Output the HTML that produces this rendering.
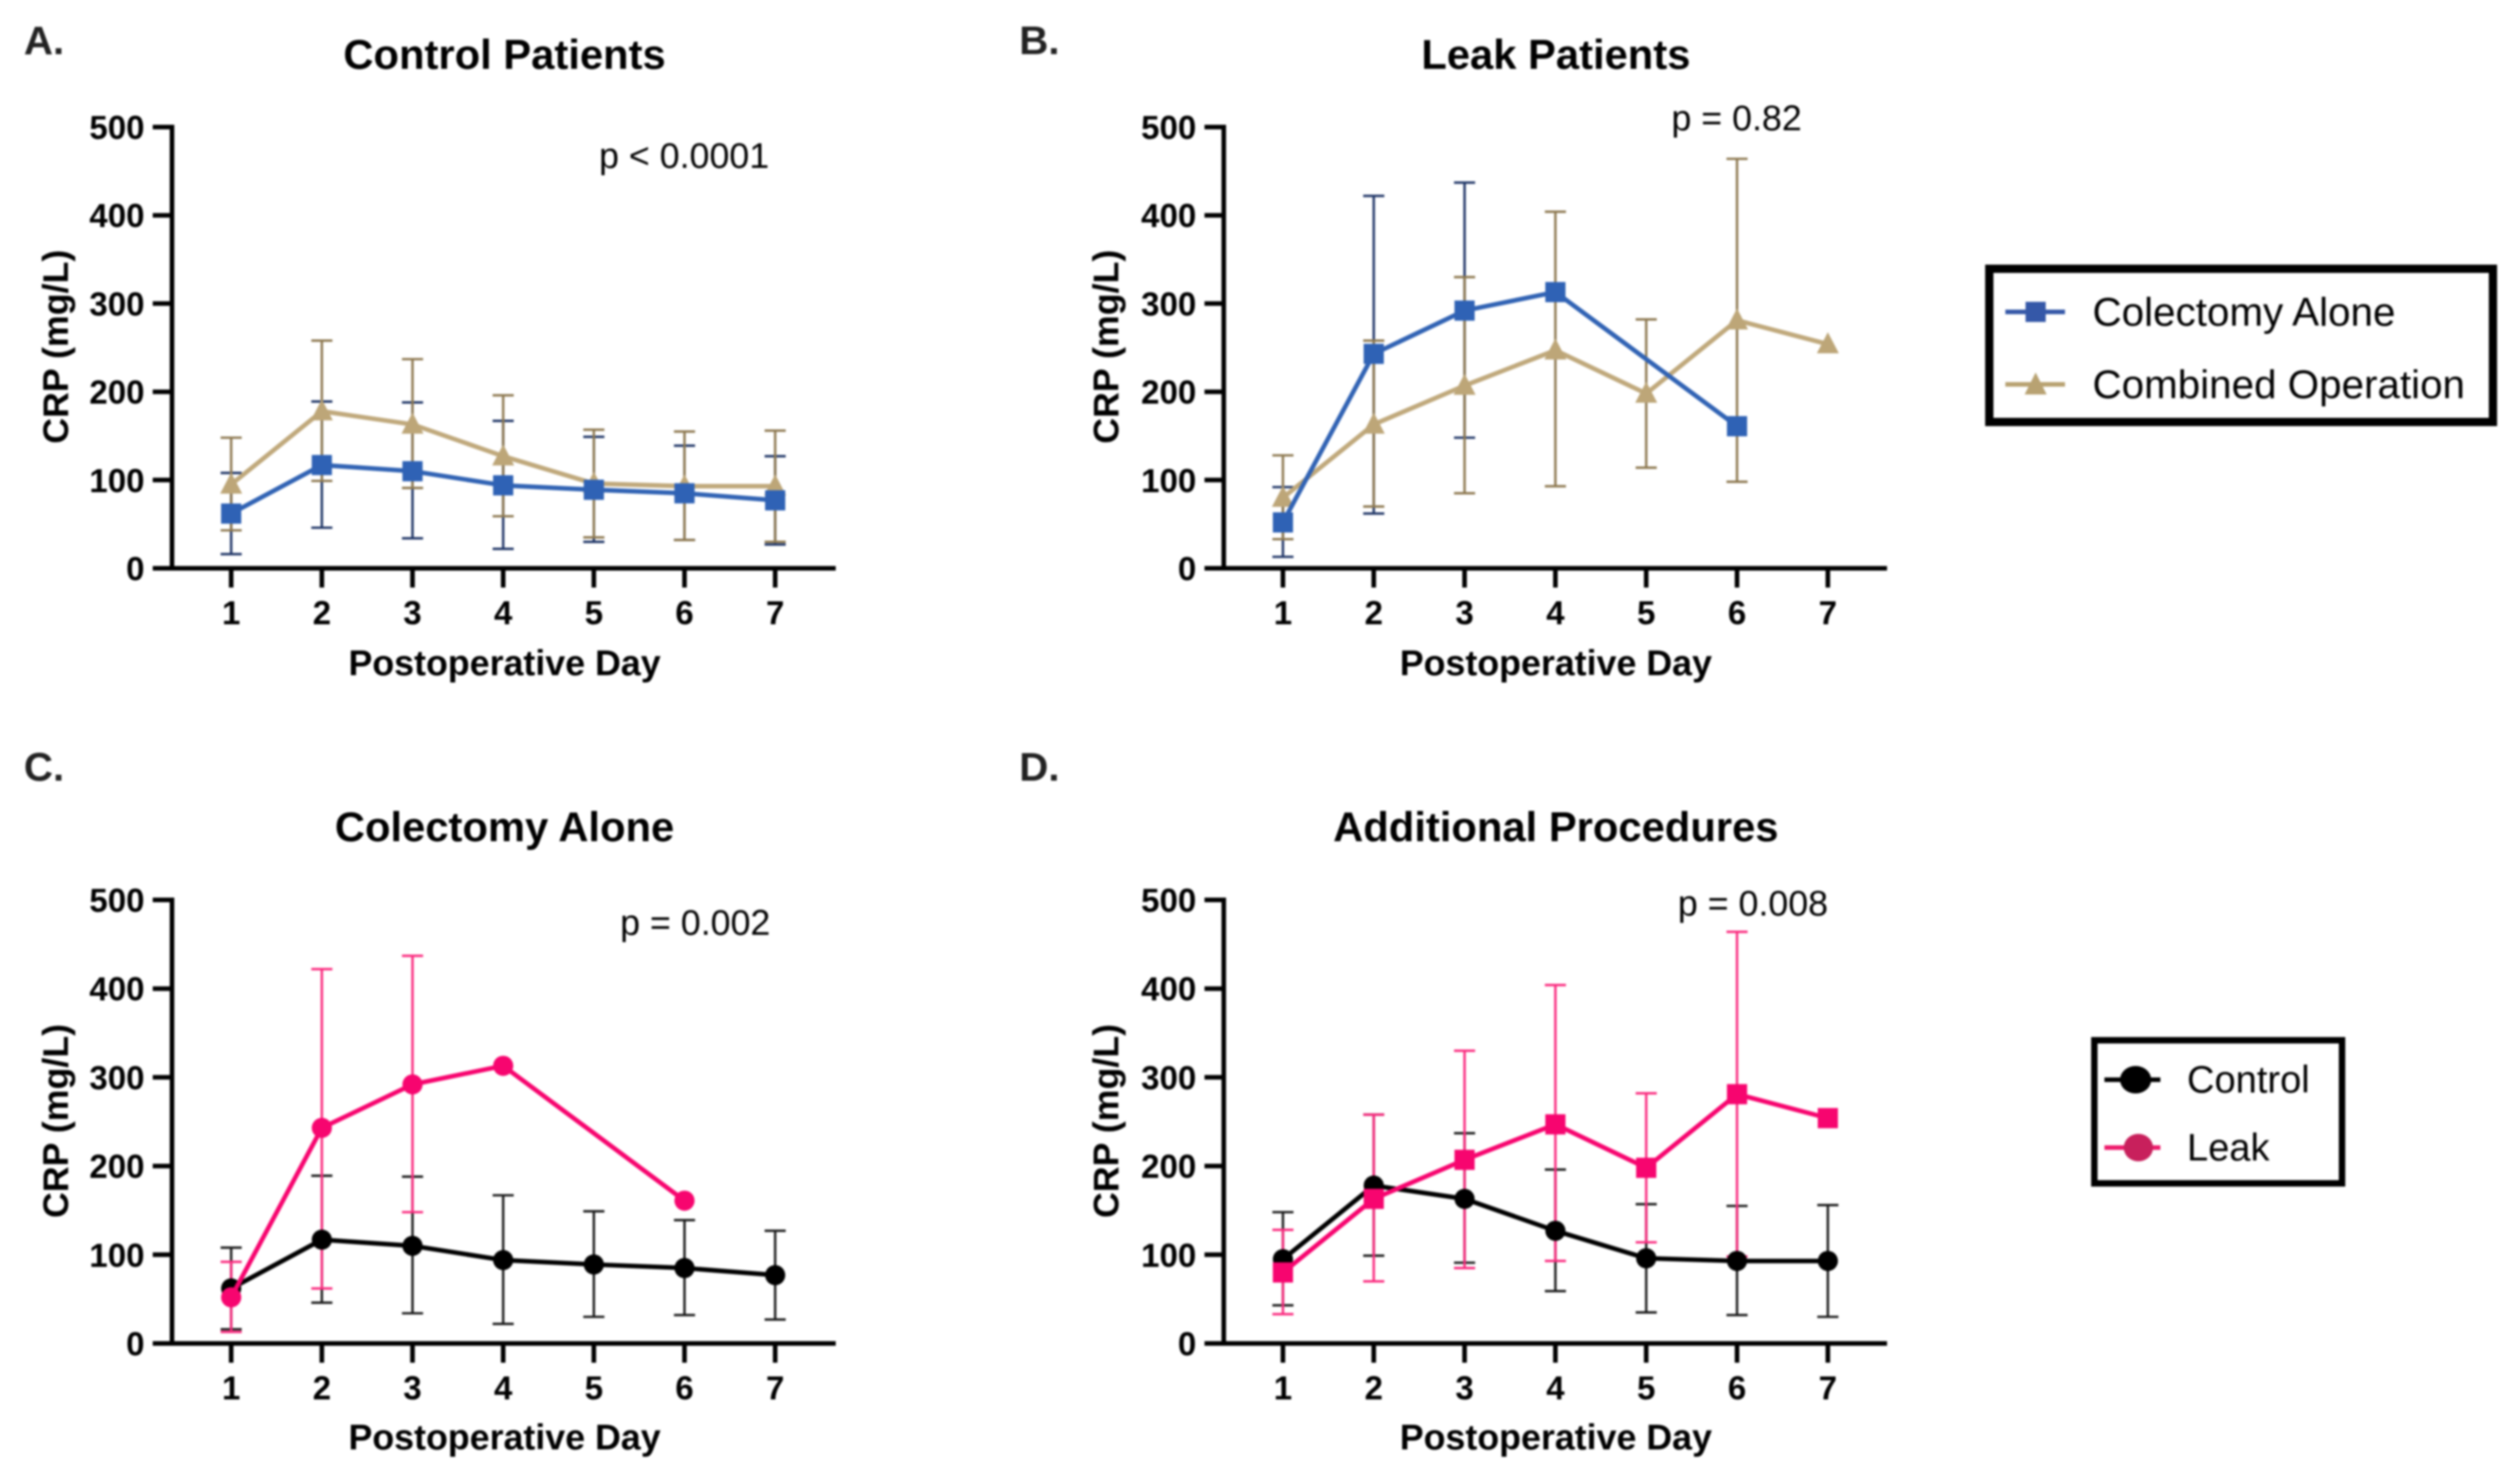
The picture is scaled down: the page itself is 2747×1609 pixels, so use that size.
<!DOCTYPE html>
<html lang="en">
<head>
<meta charset="utf-8">
<title>CRP by postoperative day</title>
<style>
html,body{margin:0;padding:0;background:#fff;}
svg{display:block;filter:blur(1px);}
text{font-family:"Liberation Sans",Arial,sans-serif;fill:#000;}
.b{font-weight:bold;}
</style>
</head>
<body>
<svg id="figure" xmlns="http://www.w3.org/2000/svg" width="2747" height="1609" viewBox="0 0 2747 1609">
  <rect x="0" y="0" width="2747" height="1609" fill="#fff"/>

  <text class="b" x="26" y="59" font-size="44" style="fill:#222">A.</text>
  <text class="b" x="1111" y="59" font-size="44" style="fill:#222">B.</text>
  <text class="b" x="26" y="851" font-size="44" style="fill:#222">C.</text>
  <text class="b" x="1111" y="851" font-size="44" style="fill:#222">D.</text>

  <text class="b" x="550" y="75" font-size="45.5" text-anchor="middle">Control Patients</text>
  <text class="b" x="1696" y="75" font-size="45.5" text-anchor="middle">Leak Patients</text>
  <text class="b" x="550" y="917" font-size="45.5" text-anchor="middle">Colectomy Alone</text>
  <text class="b" x="1696" y="917" font-size="45.5" text-anchor="middle">Additional Procedures</text>

  <text x="653" y="183" font-size="39">p &lt; 0.0001</text>
  <text x="1822" y="142" font-size="39">p = 0.82</text>
  <text x="676" y="1019" font-size="39">p = 0.002</text>
  <text x="1829" y="998" font-size="39">p = 0.008</text>

  <text class="b" font-size="39" text-anchor="middle" transform="translate(74,378) rotate(-90)">CRP (mg/L)</text>
  <text class="b" font-size="39" text-anchor="middle" transform="translate(1219,378) rotate(-90)">CRP (mg/L)</text>
  <text class="b" font-size="39" text-anchor="middle" transform="translate(74,1222) rotate(-90)">CRP (mg/L)</text>
  <text class="b" font-size="39" text-anchor="middle" transform="translate(1219,1222) rotate(-90)">CRP (mg/L)</text>

  <text class="b" x="550" y="736" font-size="39" text-anchor="middle">Postoperative Day</text>
  <text class="b" x="1696" y="736" font-size="39" text-anchor="middle">Postoperative Day</text>
  <text class="b" x="550" y="1580" font-size="39" text-anchor="middle">Postoperative Day</text>
  <text class="b" x="1696" y="1580" font-size="39" text-anchor="middle">Postoperative Day</text>

  <g>
    <rect x="2168.5" y="293" width="549" height="167" fill="#fff" stroke="#000" stroke-width="9"/>
    <g>
      <line x1="2186" y1="340" x2="2251" y2="340" stroke="#3558a8" stroke-width="5"/>
      <rect x="2208" y="329" width="22" height="22" fill="#3558a8"/>
      <text x="2281" y="355" font-size="44">Colectomy Alone</text>
    </g>
    <g>
      <line x1="2186" y1="419" x2="2251" y2="419" stroke="#b8a272" stroke-width="5"/>
      <polygon points="2219,406 2231,430 2207,430" fill="#b8a272"/>
      <text x="2281" y="434" font-size="44">Combined Operation</text>
    </g>
  </g>

  <g>
    <rect x="2283" y="1134" width="270" height="156" fill="#fff" stroke="#000" stroke-width="7"/>
    <g>
      <line x1="2294" y1="1177" x2="2355" y2="1177" stroke="#000" stroke-width="5"/>
      <ellipse cx="2328" cy="1177" rx="17" ry="15" fill="#000"/>
      <text x="2384" y="1191" font-size="41.5">Control</text>
    </g>
    <g>
      <line x1="2294" y1="1251" x2="2355" y2="1251" stroke="#ee1c6c" stroke-width="5"/>
      <ellipse cx="2331" cy="1251" rx="16" ry="15" fill="#c8205c"/>
      <text x="2384" y="1265" font-size="41.5">Leak</text>
    </g>
  </g>
</svg>
<script>
// Chart data. null = no value / no error bar.
const days = [1, 2, 3, 4, 5, 6, 7];
const yTickValues = [0, 100, 200, 300, 400, 500];

const controlColectomyMean  = [62, 117, 110, 94, 89, 85, 77];
const controlColectomyUpper = [108, 189, 188, 167, 149, 139, 127];
const controlColectomyLower = [16, 46, 34, 22, 30, 32, 27];

const controlCombinedMean  = [95, 178, 163, 127, 96, 93, 93];
const controlCombinedUpper = [148, 258, 237, 196, 157, 155, 156];
const controlCombinedLower = [43, 99, 91, 59, 35, 32, 30];

const leakColectomyMean  = [52, 243, 292, 313, null, 161, null];
const leakColectomyUpper = [92, 422, 437, null, null, null, null];
const leakColectomyLower = [13, 62, 148, null, null, null, null];

const leakCombinedMean  = [80, 163, 207, 247, 198, 281, 254];
const leakCombinedUpper = [128, 258, 330, 404, 282, 464, null];
const leakCombinedLower = [33, 70, 85, 93, 114, 98, null];

const BLUE = {line: '#3163b4', err: '#1f3566', mark: '#2f62b5'};
const TAN = {line: '#c0a97c', err: '#8d7850', mark: '#bda678'};
const BLACK = {line: '#000', err: '#1a1a1a', mark: '#000'};
const PINK = {line: '#f7056f', err: '#fa2a7e', mark: '#f7056f'};

const panels = [
  {id: 'a', axisX: 187.5, firstX: 252, lastX: 845, endX: 911, topY: 138.5, zeroY: 619.5, series: [
    {name: 'colectomy-alone', mean: controlColectomyMean, upper: controlColectomyUpper, lower: controlColectomyLower, color: BLUE, marker: 'square'},
    {name: 'combined-operation', mean: controlCombinedMean, upper: controlCombinedUpper, lower: controlCombinedLower, color: TAN, marker: 'triangle'}
  ], topLast: 'colectomy-alone'},
  {id: 'b', axisX: 1334, firstX: 1398.5, lastX: 1992.5, endX: 2057, topY: 138.5, zeroY: 619.5, series: [
    {name: 'colectomy-alone', mean: leakColectomyMean, upper: leakColectomyUpper, lower: leakColectomyLower, color: BLUE, marker: 'square'},
    {name: 'combined-operation', mean: leakCombinedMean, upper: leakCombinedUpper, lower: leakCombinedLower, color: TAN, marker: 'triangle'}
  ], topLast: 'colectomy-alone'},
  {id: 'c', axisX: 187.5, firstX: 252, lastX: 845, endX: 911, topY: 981, zeroY: 1464.5, series: [
    {name: 'control', mean: controlColectomyMean, upper: controlColectomyUpper, lower: controlColectomyLower, color: BLACK, marker: 'circle'},
    {name: 'leak', mean: leakColectomyMean, upper: leakColectomyUpper, lower: leakColectomyLower, color: PINK, marker: 'circle'}
  ], topLast: 'leak'},
  {id: 'd', axisX: 1334, firstX: 1398.5, lastX: 1992.5, endX: 2057, topY: 981, zeroY: 1464.5, series: [
    {name: 'control', mean: controlCombinedMean, upper: controlCombinedUpper, lower: controlCombinedLower, color: BLACK, marker: 'circle'},
    {name: 'leak', mean: leakCombinedMean, upper: leakCombinedUpper, lower: leakCombinedLower, color: PINK, marker: 'square'}
  ], topLast: 'leak'}
];

const SVG_NS = 'http://www.w3.org/2000/svg';
const figure = document.getElementById('figure');

function make(tag, attrs, parent) {
  const node = document.createElementNS(SVG_NS, tag);
  for (const key in attrs) node.setAttribute(key, attrs[key]);
  parent.appendChild(node);
  return node;
}
function xScale(p, day) {
  return p.firstX + (day - days[0]) * (p.lastX - p.firstX) / (days[days.length - 1] - days[0]);
}
function yScale(p, value) {
  const max = yTickValues[yTickValues.length - 1];
  return p.zeroY - value * (p.zeroY - p.topY) / max;
}

function drawAxes(p) {
  const g = make('g', {}, figure);
  
  
  const yLine = make('line', {x1: p.axisX, y1: p.topY - 2.5, x2: p.axisX, y2: p.zeroY + 2.5, stroke: '#000', 'stroke-width': 5}, g);
  
  
  const xLine = make('line', {x1: p.axisX - 21, y1: p.zeroY, x2: p.endX, y2: p.zeroY, stroke: '#000', 'stroke-width': 5}, g);
  
  
  yTickValues.forEach(function (v) {
    const y = yScale(p, v);
    const tick = make('line', {x1: p.axisX - 21, y1: y, x2: p.axisX, y2: y, stroke: '#000', 'stroke-width': 5}, g);
    
    
    const label = make('text', {x: p.axisX - 30, y: y + 13, 'font-size': 36, 'font-weight': 'bold', 'text-anchor': 'end'}, g);
    label.textContent = v;
    
    
  });
  days.forEach(function (d) {
    const x = xScale(p, d);
    const tick = make('line', {x1: x, y1: p.zeroY, x2: x, y2: p.zeroY + 21, stroke: '#000', 'stroke-width': 5}, g);
    
    
    const label = make('text', {x: x, y: p.zeroY + 61, 'font-size': 36, 'font-weight': 'bold', 'text-anchor': 'middle'}, g);
    label.textContent = d;
    
    
  });
}

function drawErrors(p, s) {
  const g = make('g', {}, figure);
  
  
  days.forEach(function (d, i) {
    if (s.upper[i] === null || s.lower[i] === null) return;
    const x = xScale(p, d);
    const yU = yScale(p, s.upper[i]);
    const yL = yScale(p, s.lower[i]);
    const style = {stroke: s.color.err, 'stroke-width': 2.6};
    const stem = make('line', Object.assign({x1: x, y1: yU, x2: x, y2: yL}, style), g);
    
    
    const capU = make('line', Object.assign({x1: x - 11.5, y1: yU, x2: x + 11.5, y2: yU}, style), g);
    
    
    const capL = make('line', Object.assign({x1: x - 11.5, y1: yL, x2: x + 11.5, y2: yL}, style), g);
    
    
  });
}

function drawSeries(p, s) {
  const g = make('g', {}, figure);
  
  
  const pts = [];
  days.forEach(function (d, i) {
    if (s.mean[i] !== null) pts.push([xScale(p, d), yScale(p, s.mean[i])]);
  });
  const line = make('polyline', {
    points: pts.map(function (q) { return q.join(','); }).join(' '),
    fill: 'none', stroke: s.color.line, 'stroke-width': 5, 'stroke-linejoin': 'round'
  }, g);
  
  
  pts.forEach(function (q) {
    let mark;
    if (s.marker === 'square') {
      mark = make('rect', {x: q[0] - 11, y: q[1] - 11, width: 22, height: 22, fill: s.color.mark}, g);
    } else if (s.marker === 'triangle') {
      mark = make('polygon', {points: (q[0]) + ',' + (q[1] - 13) + ' ' + (q[0] + 12) + ',' + (q[1] + 10) + ' ' + (q[0] - 12) + ',' + (q[1] + 10), fill: s.color.mark}, g);
    } else {
      mark = make('circle', {cx: q[0], cy: q[1], r: 11, fill: s.color.mark}, g);
    }
    
    
  });
}

panels.forEach(function (p) {
  drawAxes(p);
  p.series.forEach(function (s) { drawErrors(p, s); });
  const ordered = p.series.slice().sort(function (a, b) {
    return (a.name === p.topLast ? 1 : 0) - (b.name === p.topLast ? 1 : 0);
  });
  ordered.forEach(function (s) { drawSeries(p, s); });
});
</script>
</body>
</html>
